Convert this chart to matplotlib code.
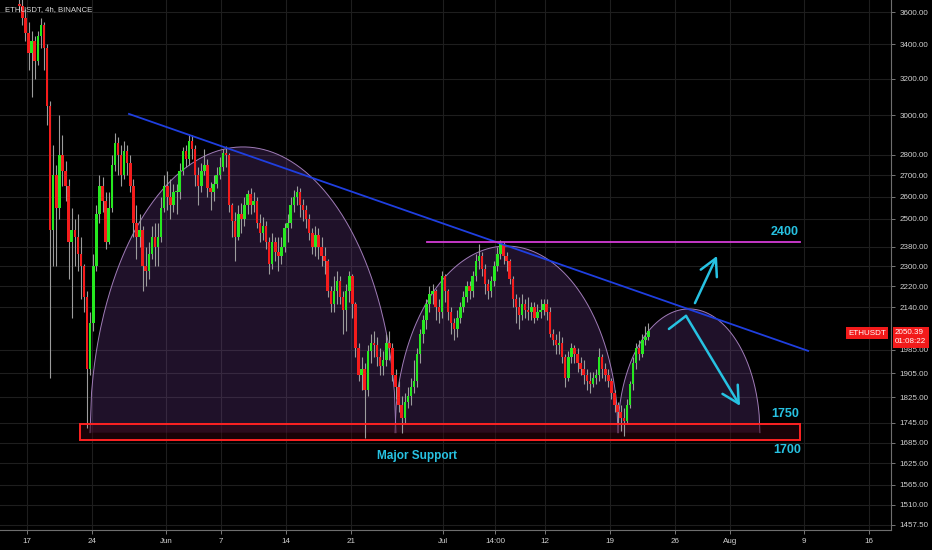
import numpy as np
import pandas as pd
import matplotlib
matplotlib.use("Agg")
import matplotlib.pyplot as plt
import matplotlib.dates as mdates
from matplotlib.patches import Rectangle, Polygon
from matplotlib.ticker import NullLocator, NullFormatter

plt.rcParams['font.family'] = ['Liberation Sans', 'DejaVu Sans']

# 8h candles from 2021-05-16 00:00
first_open = 3650
closes = [3640, 3560, 3470, 3350, 3420, 3300, 3450, 3520, 3380, 3050, 2450, 2700,
          2550, 2800, 2720, 2650, 2400, 2450, 2420, 2350, 2300, 2180, 1920, 2080,
          2300, 2520, 2650, 2580, 2400, 2550, 2750, 2860, 2800, 2700, 2820, 2760,
          2650, 2480, 2420, 2450, 2300, 2280, 2350, 2420, 2380, 2420, 2550, 2650,
          2600, 2560, 2620, 2620, 2720, 2820, 2780, 2870, 2830, 2700, 2650, 2720,
          2750, 2640, 2620, 2660, 2700, 2740, 2810, 2800, 2560, 2490, 2420, 2520,
          2500, 2560, 2610, 2560, 2580, 2480, 2440, 2470, 2400, 2310, 2400, 2360,
          2340, 2380, 2460, 2480, 2560, 2600, 2620, 2560, 2540, 2500, 2440, 2380,
          2430, 2380, 2340, 2320, 2200, 2150, 2200, 2240, 2180, 2130, 2200, 2260,
          2150, 1990, 1900, 1920, 1850, 1980, 2010, 2000, 1960, 1930, 1950, 2010,
          1990, 1900, 1860, 1800, 1760, 1810, 1830, 1860, 1880, 1970, 2040, 2090,
          2150, 2190, 2200, 2140, 2120, 2260, 2200, 2120, 2080, 2060, 2100, 2140,
          2180, 2220, 2200, 2260, 2320, 2340, 2290, 2230, 2200, 2240, 2300, 2350,
          2390, 2340, 2320, 2250, 2170, 2140, 2110, 2150, 2130, 2120, 2140, 2100,
          2120, 2130, 2150, 2120, 2040, 2020, 2000, 2010, 1960, 1890, 1960, 1990,
          1970, 1940, 1920, 1900, 1880, 1870, 1890, 1900, 1960, 1920, 1900, 1880,
          1840, 1800, 1780, 1760, 1750, 1800, 1870, 1940, 1990, 1970, 2020, 2030,
          2050.39]
highs = [3720, 3700, 3620, 3540, 3480, 3450, 3480, 3560, 3540, 3400, 3080, 2850,
         2750, 3000, 2900, 2770, 2680, 2550, 2500, 2520, 2420, 2310, 2200, 2120,
         2350, 2560, 2700, 2690, 2620, 2620, 2800, 2910, 2890, 2850, 2870, 2850,
         2800, 2680, 2560, 2520, 2470, 2380, 2400, 2470, 2480, 2480, 2600, 2700,
         2720, 2680, 2660, 2660, 2760, 2840, 2850, 2900, 2900, 2850, 2740, 2760,
         2830, 2780, 2670, 2700, 2740, 2790, 2830, 2845, 2810, 2570, 2530, 2560,
         2570, 2600, 2630, 2640, 2620, 2600, 2520, 2510, 2490, 2420, 2440, 2420,
         2420, 2420, 2480, 2520, 2600, 2630, 2650, 2640, 2590, 2560, 2520, 2460,
         2470, 2460, 2420, 2380, 2330, 2220, 2260, 2280, 2260, 2200, 2230, 2280,
         2270, 2160, 2010, 1960, 1940, 2000, 2040, 2050, 2030, 1990, 1980, 2040,
         2050, 2010, 1920, 1880, 1830, 1840, 1860, 1890, 1950, 1990, 2060, 2110,
         2170, 2220, 2230, 2210, 2170, 2280, 2270, 2210, 2140, 2100, 2130, 2160,
         2200, 2240, 2240, 2280, 2350, 2390, 2360, 2310, 2250, 2260, 2320, 2380,
         2410, 2400, 2360, 2330, 2260, 2190, 2180, 2190, 2170, 2180, 2160, 2160,
         2150, 2170, 2170, 2170, 2140, 2060, 2040, 2050, 2030, 1970, 1980, 2010,
         2000, 1990, 1960, 1950, 1920, 1910, 1910, 1920, 1990, 1970, 1940, 1920,
         1890, 1850, 1810, 1800, 1790, 1820, 1880, 1960, 2010, 2020, 2040, 2070,
         2080]
lows = [3600, 3520, 3420, 3250, 3100, 3200, 3280, 3380, 3250, 2950, 1890, 2300,
        2300, 2500, 2650, 2580, 2250, 2100, 2300, 2280, 2170, 2120, 1730, 1900,
        2050, 2280, 2480, 2530, 2370, 2390, 2530, 2720, 2700, 2650, 2680, 2700,
        2620, 2420, 2330, 2380, 2200, 2220, 2250, 2330, 2300, 2300, 2400, 2530,
        2540, 2500, 2530, 2520, 2590, 2700, 2740, 2750, 2780, 2650, 2560, 2620,
        2700, 2600, 2540, 2580, 2640, 2680, 2720, 2740, 2530, 2420, 2320, 2410,
        2440, 2470, 2520, 2520, 2530, 2460, 2400, 2410, 2370, 2270, 2290, 2320,
        2280, 2310, 2360, 2400, 2460, 2530, 2560, 2510, 2490, 2460, 2410, 2350,
        2340, 2330, 2300, 2270, 2180, 2120, 2120, 2150, 2150, 2040, 2050, 2160,
        2100, 1960, 1880, 1850, 1700, 1830, 1940, 1960, 1930, 1900, 1900, 1930,
        1950, 1880, 1820, 1780, 1715, 1740, 1790, 1800, 1840, 1860, 1940, 2010,
        2060, 2120, 2150, 2090, 2080, 2100, 2160, 2090, 2040, 2020, 2030, 2080,
        2120, 2160, 2170, 2180, 2240, 2290, 2260, 2190, 2170, 2180, 2220, 2280,
        2330, 2310, 2280, 2230, 2140, 2080, 2060, 2090, 2100, 2090, 2090, 2080,
        2090, 2100, 2110, 2090, 2030, 2000, 1970, 1970, 1940, 1860, 1880, 1940,
        1940, 1910, 1900, 1870, 1850, 1840, 1860, 1870, 1880, 1890, 1880, 1860,
        1820, 1780, 1740, 1720, 1705, 1740, 1790, 1850, 1920, 1950, 1960, 2000,
        2020]

y_ticks = [3600, 3400, 3200, 3000, 2800, 2700, 2600, 2500, 2380, 2300, 2220, 2140,
           1985, 1905, 1825, 1745, 1685, 1625, 1565, 1510, 1457.5]
x_tick_dates = ['2021-05-17', '2021-05-24', '2021-06-01', '2021-06-07', '2021-06-14',
                '2021-06-21', '2021-07-01', '2021-07-06 14:00', '2021-07-12', '2021-07-19',
                '2021-07-26', '2021-08-01', '2021-08-09', '2021-08-16']
x_tick_labels = ['17', '24', 'Jun', '7', '14', '21', 'Jul', '14:00', '12', '19', '26',
                 'Aug', '9', '16']

# drawings on the chart (date, price anchors)
trend_start = ('2021-05-28 00:30', 3008)
trend_end = ('2021-08-09 10:00', 1981)
resist_from, resist_to, resist_price = '2021-06-29 05:30', '2021-08-08 13:00', 2400
box_from, box_to, box_low, box_high = '2021-05-22 17:00', '2021-08-08 13:00', 1694, 1742
arc_base = 1715
arcs = [('2021-05-23 19:30', '2021-06-25 21:00', 2838),
        ('2021-06-25 18:30', '2021-07-19 21:00', 2383),
        ('2021-07-19 21:00', '2021-08-04 05:00', 2133)]
up_arrow = [('2021-07-28 04:30', 2155), ('2021-07-30 13:40', 2342)]
down_arrow = [('2021-07-25 09:00', 2059), ('2021-07-27 05:20', 2107), ('2021-08-02 01:30', 1798)]

CYAN = '#27c2e2'
GREEN = '#26e820'
RED = '#f41c1c'


def dn(s):
    return mdates.date2num(pd.Timestamp(s))


fig = plt.figure(figsize=(9.32, 5.5), dpi=100, facecolor='black')
ax = fig.add_axes([0, 20 / 550, 891 / 932, 530 / 550])
ax.set_facecolor('black')
ax.set_yscale('log')

# candles
times = pd.date_range('2021-05-16 04:00', periods=len(closes), freq='8h')
xs = mdates.date2num(times)
opens = [first_open] + closes[:-1]
closes_a = np.array(closes, dtype=float)
opens_a = np.array(opens, dtype=float)
highs_a = np.maximum(np.array(highs, dtype=float), np.maximum(opens_a, closes_a))
lows_a = np.minimum(np.array(lows, dtype=float), np.minimum(opens_a, closes_a))
up = closes_a >= opens_a
cols = np.where(up, GREEN, RED)
ax.vlines(xs, lows_a, highs_a, color='#9c9c9c', lw=0.8, zorder=3)
bottoms = np.minimum(opens_a, closes_a)
heights = np.maximum(np.abs(closes_a - opens_a), bottoms * 0.002)
ax.bar(xs, heights, bottom=bottoms, width=0.27, color=cols, lw=0, zorder=4)

# arcs (half ellipses in screen space)
t = np.linspace(-1, 1, 200)
for left, right, peak in arcs:
    x0, x1 = dn(left), dn(right)
    xc, hw = (x0 + x1) / 2, (x1 - x0) / 2
    ly = np.log(arc_base) + (np.log(peak) - np.log(arc_base)) * np.sqrt(1 - t ** 2)
    pts = np.column_stack([xc + hw * t, np.exp(ly)])
    ax.add_patch(Polygon(pts, closed=True, fc='#7b45a0', alpha=0.26, ec='none', zorder=2))
    ax.plot(pts[:, 0], pts[:, 1], color='#a07cb8', lw=0.7, zorder=2.5)

# support box
bx0, bx1 = dn(box_from), dn(box_to)
ax.add_patch(Rectangle((bx0, box_low), bx1 - bx0, box_high - box_low,
                       fc='#3a0610', alpha=0.45, ec='none', zorder=2.6))
ax.add_patch(Rectangle((bx0, box_low), bx1 - bx0, box_high - box_low,
                       fc='none', ec='#ff2222', lw=1.4, zorder=5))

# trend line and resistance
ax.plot([dn(trend_start[0]), dn(trend_end[0])], [trend_start[1], trend_end[1]],
        color='#1f3fe0', lw=1.3, zorder=6)
ax.plot([dn(resist_from), dn(resist_to)], [resist_price, resist_price],
        color='#d43bd6', lw=1.3, zorder=6)

# arrows
arrow_style = '->,head_length=0.6,head_width=0.32'
ax.annotate('', xy=(dn(up_arrow[1][0]), up_arrow[1][1]),
            xytext=(dn(up_arrow[0][0]), up_arrow[0][1]),
            arrowprops=dict(arrowstyle=arrow_style, color=CYAN,
                            lw=1.8, mutation_scale=20, shrinkA=0, shrinkB=0), zorder=7)
ax.plot([dn(down_arrow[0][0]), dn(down_arrow[1][0])], [down_arrow[0][1], down_arrow[1][1]],
        color=CYAN, lw=1.8, solid_capstyle='round', zorder=7)
ax.annotate('', xy=(dn(down_arrow[2][0]), down_arrow[2][1]),
            xytext=(dn(down_arrow[1][0]), down_arrow[1][1]),
            arrowprops=dict(arrowstyle=arrow_style, color=CYAN,
                            lw=1.8, mutation_scale=20, shrinkA=0, shrinkB=0), zorder=7)

# labels
ax.text(dn('2021-08-08 10:00'), 2443, '2400', color=CYAN, fontsize=9, fontweight='bold',
        ha='right', va='center', zorder=8)
ax.text(dn('2021-08-08 10:00'), 1772, '1750', color=CYAN, fontsize=9, fontweight='bold',
        ha='right', va='center', zorder=8)
ax.text(dn('2021-08-08 15:00'), 1663, '1700', color=CYAN, fontsize=9, fontweight='bold',
        ha='right', va='center', zorder=8)
ax.text(dn('2021-06-28 03:30'), 1646, 'Major Support', color=CYAN, fontsize=8.5,
        fontweight='bold', ha='center', va='center', zorder=8)

# axes styling
ax.set_xlim(dn('2021-05-14 02:00'), dn('2021-08-18 09:00'))
ax.set_ylim(1444.6, 3677)
ax.yaxis.tick_right()
ax.set_yticks(y_ticks)
ax.set_yticklabels(['%.2f' % v for v in y_ticks])
ax.yaxis.set_minor_locator(NullLocator())
ax.yaxis.set_minor_formatter(NullFormatter())
ax.set_xticks([dn(d) for d in x_tick_dates])
ax.set_xticklabels(x_tick_labels)
ax.tick_params(axis='both', colors='#8a8a8a', labelcolor='#d2d2d2', labelsize=5.8,
               length=3, width=0.6, pad=3)
ax.grid(True, color='#1e1e1e', lw=0.8)
ax.set_axisbelow(True)
for side in ['top', 'left']:
    ax.spines[side].set_visible(False)
for side in ['right', 'bottom']:
    ax.spines[side].set_color('#6e6e6e')
    ax.spines[side].set_linewidth(0.8)

# last price markers
last = closes[-1]
ax.annotate('%.2f\n01:08:22' % last, xy=(1, last), xycoords=('axes fraction', 'data'),
            xytext=(4, -6), textcoords='offset pixels', ha='left', va='center',
            color='white', fontsize=5.8, linespacing=1.35, annotation_clip=False,
            bbox=dict(boxstyle='square,pad=0.3', fc='#f21a1a', ec='none'), zorder=10)
ax.annotate('ETHUSDT', xy=(1, last), xycoords=('axes fraction', 'data'),
            xytext=(-5, -2), textcoords='offset pixels', ha='right', va='center',
            color='white', fontsize=5.8, annotation_clip=False,
            bbox=dict(boxstyle='square,pad=0.3', fc='#f21a1a', ec='none'), zorder=10)

fig.text(5 / 932, 1 - 10 / 550, 'ETHUSDT, 4h, BINANCE', color='#d8d8d8', fontsize=5.6,
         ha='left', va='center')

fig.savefig('out.png', dpi=100, facecolor='black')
